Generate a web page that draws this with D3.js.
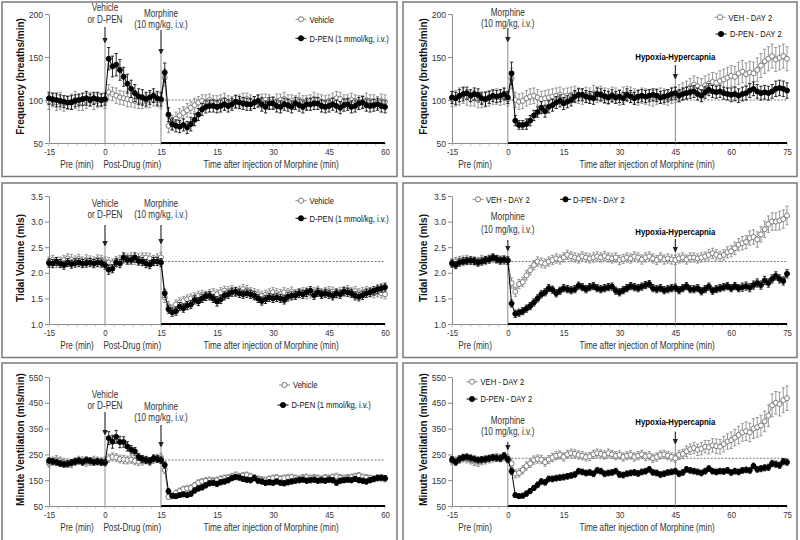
<!DOCTYPE html>
<html><head><meta charset="utf-8">
<script src="https://cdn.jsdelivr.net/npm/d3@7"></script>
<style>
body{margin:0;background:#fff}
text{font-family:"Liberation Sans",Arial,sans-serif;}
</style>
</head><body>
<svg id="c" width="800" height="540"></svg>
<script>
// ---------------- DATA ----------------
// time points on plotted axis: -15..0 pre, then 1..75
const timePos = d3.range(-15, 76);
const xTickPos = [-15, 0, 15, 30, 45, 60, 75];
const xLabelsLeft = ["-15", "0", "15", "15", "30", "45", "60"];
const xLabelsRight = ["-15", "0", "15", "30", "45", "60", "75"];
const subLabelsLeft = ["Pre (min)", "Post-Drug (min)", "Time after injection of Morphine (min)"];
const subLabelsRight = ["Pre (min)", "Time after injection of Morphine (min)"];
const legendLeft = ["Vehicle", "D-PEN (1 mmol/kg, i.v.)"];
const legendRight = ["VEH - DAY 2", "D-PEN - DAY 2"];
const eventLabelsLeft = [["Vehicle", "or D-PEN"], ["Morphine", "(10 mg/kg, i.v.)"]];
const eventLabelsRight = [["Morphine", "(10 mg/kg, i.v.)"], ["Hypoxia-Hypercapnia"]];
const yTitles = ["Frequency (breaths/min)", "Tidal Volume (mls)", "Minute Ventilation (mls/min)"];
const freqTicks = [50, 100, 150, 200];
const tvTicks = [1.0, 1.5, 2.0, 2.5, 3.0, 3.5];
const mvTicks = [50, 150, 250, 350, 450, 550];
const baselines = [100, 100, 2.22, 2.22, 228, 235];

// Frequency, left
const freqVeh_L = [98,100,97,99,96,97,98,100,97,96,99,101,98,99,100,99,
 109,107,105,103,102,101,100,99,99,98,99,100,101,100,99,
 126,70,74,78,82,85,88,91,94,97, 99,98,100,98,97,99,100,98,97,98,
 99,100,101,98,97,98,99,100,98,97, 99,100,101,98,99,97,100,98,97,99,
 101,100,98,97,99,100,102,101,99,98, 100,99,97,98,100,99,98,97,99,98];
const freqVehErr_L = [9,8,9,10,9,8,9,10,9,8,9,8,9,8,8,9,
 9,8,9,8,8,9,8,8,9,8,8,9,8,8,9,
 10,8,8,8,8,7,8,7,8,7, 7,8,7,7,8,7,8,7,7,8, 7,8,7,8,7,7,8,7,8,7,
 8,7,8,8,7,8,8,7,8,7, 8,7,8,8,7,8,8,8,7,8, 8,7,8,7,8,7,8,7,8,8];
const freqDpen_L = [102,101,100,99,98,97,97,99,100,101,102,100,102,101,100,101,
 148,139,141,135,127,119,113,108,104,103,101,103,105,102,101,
 132,83,72,70,69,71,68,72,77,83, 89,92,93,93,92,93,95,93,95,98,
 97,96,95,95,97,99,95,92,96,96, 93,92,95,94,92,96,94,92,95,95,
 96,96,93,92,93,95,93,91,94,95, 92,93,96,97,94,93,94,95,93,92];
const freqDpenErr_L = [7,7,8,7,7,7,8,7,7,7,8,7,7,8,7,7,
 13,12,13,12,11,11,10,10,9,9,8,8,8,8,8,
 11,8,7,7,7,7,7,8,7,7, 7,7,7,7,7,7,7,7,7,7, 7,7,7,7,7,7,8,7,7,7,
 7,7,7,7,7,7,7,7,7,7, 7,7,7,7,7,7,7,7,7,7, 7,7,7,7,7,7,7,7,7,7];

// Frequency, right
const freqVeh_R = [101,102,104,105,103,101,102,100,99,101,102,103,104,103,104,101,
 125,100,98,99,102,104,105,103,101,102, 103,104,105,106,104,105,106,107,105,104,
 106,105,108,106,107,105,104,106,105,103, 106,107,106,104,103,105,104,103,102,104,
 105,104,103,105,106,108,110,112,115,118, 116,114,117,119,121,120,122,124,126,128,
 127,131,133,130,132,131,135,140,145,148, 151,147,149,151,148];
const freqVehErr_R = [9,9,10,9,9,8,9,9,8,9,9,8,9,9,9,8,
 12,9,9,9,9,9,9,9,9,9, 9,9,9,9,9,9,9,9,9,9, 9,9,9,9,9,9,9,9,9,9,
 9,9,9,9,9,9,9,9,9,9, 9,9,9,9,9,10,10,10,10,10, 10,11,11,11,11,11,12,12,12,12,
 12,13,13,13,13,13,14,14,14,14, 14,14,14,14,14];
const freqDpen_R = [103,102,105,107,108,105,107,106,102,101,103,105,104,105,107,103,
 131,76,71,71,72,76,82,86,91,87, 92,94,97,99,96,98,100,104,106,106,
 104,103,102,107,106,104,103,105,103,104, 102,106,104,102,104,105,104,105,106,105,
 103,104,105,107,108,105,107,108,109,110, 107,105,109,112,110,109,110,108,107,106,
 107,105,107,108,111,113,110,108,109,108, 110,113,114,113,111];
const freqDpenErr_R = [7,7,7,8,7,7,7,7,7,8,7,7,7,7,7,7,
 13,6,5,5,6,6,6,6,7,7, 7,7,7,7,7,7,7,7,7,7, 7,7,7,7,7,7,7,7,7,7,
 7,7,7,7,7,7,7,7,7,7, 7,7,7,7,7,7,7,7,7,7, 7,7,7,7,7,7,7,7,7,8,
 8,8,8,8,8,8,8,8,8,8, 8,9,9,9,9];

// Tidal volume, left
const tvVeh_L = [2.22,2.25,2.20,2.22,2.25,2.28,2.26,2.24,2.27,2.22,2.25,2.24,2.22,2.26,2.25,2.22,
 2.20,2.18,2.22,2.25,2.28,2.27,2.30,2.25,2.27,2.30,2.30,2.28,2.25,2.28,2.30,
 1.52,1.35,1.28,1.38,1.42,1.45,1.48,1.50,1.52,1.55, 1.57,1.55,1.58,1.60,1.58,1.62,1.65,1.64,1.66,1.63,
 1.65,1.68,1.66,1.62,1.60,1.58,1.55,1.57,1.60,1.62, 1.60,1.58,1.62,1.60,1.63,1.58,1.60,1.62,1.58,1.60,
 1.62,1.65,1.60,1.62,1.64,1.63,1.60,1.62,1.64,1.66, 1.62,1.64,1.60,1.62,1.64,1.62,1.60,1.62,1.60,1.58];
const tvVehErr_L = [0.09,0.09,0.10,0.09,0.09,0.09,0.10,0.09,0.09,0.09,0.10,0.09,0.09,0.09,0.09,0.09,
 0.10,0.09,0.10,0.09,0.09,0.10,0.09,0.09,0.10,0.09,0.09,0.10,0.09,0.09,0.10,
 0.10,0.09,0.09,0.09,0.09,0.09,0.09,0.09,0.09,0.09, 0.09,0.09,0.09,0.09,0.09,0.09,0.09,0.09,0.09,0.09,
 0.09,0.09,0.09,0.09,0.09,0.09,0.09,0.09,0.09,0.09, 0.09,0.09,0.09,0.09,0.09,0.09,0.09,0.09,0.09,0.09,
 0.09,0.09,0.09,0.09,0.09,0.09,0.09,0.09,0.09,0.09, 0.09,0.09,0.09,0.09,0.09,0.09,0.09,0.09,0.09,0.09];
const tvDpen_L = [2.19,2.18,2.22,2.18,2.15,2.20,2.17,2.19,2.20,2.18,2.19,2.20,2.18,2.20,2.19,2.15,
 2.06,2.08,2.20,2.18,2.30,2.25,2.25,2.30,2.23,2.22,2.18,2.16,2.22,2.22,2.20,
 1.60,1.29,1.23,1.25,1.34,1.31,1.36,1.38,1.47,1.44, 1.50,1.54,1.55,1.50,1.44,1.48,1.55,1.58,1.62,1.63,
 1.60,1.58,1.60,1.58,1.55,1.50,1.45,1.48,1.52,1.50, 1.52,1.50,1.47,1.53,1.55,1.56,1.60,1.58,1.62,1.65,
 1.56,1.62,1.58,1.60,1.58,1.55,1.60,1.58,1.63,1.62, 1.60,1.55,1.53,1.56,1.60,1.62,1.65,1.68,1.70,1.72];
const tvDpenErr_L = [0.08,0.08,0.08,0.08,0.08,0.08,0.08,0.08,0.08,0.08,0.08,0.08,0.08,0.08,0.08,0.08,
 0.09,0.08,0.08,0.08,0.09,0.08,0.08,0.09,0.08,0.08,0.08,0.08,0.08,0.08,0.08,
 0.08,0.08,0.08,0.08,0.08,0.08,0.08,0.08,0.08,0.08, 0.08,0.08,0.08,0.08,0.09,0.08,0.08,0.08,0.08,0.08,
 0.08,0.08,0.08,0.08,0.08,0.08,0.08,0.08,0.08,0.08, 0.08,0.08,0.08,0.08,0.08,0.08,0.08,0.08,0.08,0.08,
 0.08,0.08,0.08,0.08,0.08,0.08,0.08,0.08,0.08,0.08, 0.08,0.08,0.08,0.08,0.08,0.08,0.08,0.08,0.08,0.08];

// Tidal volume, right
const tvVeh_R = [2.20,2.22,2.24,2.25,2.26,2.24,2.23,2.22,2.26,2.24,2.27,2.28,2.26,2.25,2.24,2.24,
 1.80,1.63,1.78,1.82,1.95,2.05,2.15,2.22,2.20,2.18, 2.22,2.25,2.28,2.26,2.30,2.35,2.32,2.30,2.28,2.32,
 2.30,2.28,2.30,2.32,2.30,2.33,2.30,2.28,2.30,2.25, 2.27,2.30,2.28,2.32,2.30,2.26,2.30,2.32,2.28,2.25,
 2.30,2.26,2.28,2.26,2.25,2.28,2.30,2.26,2.30,2.30, 2.28,2.30,2.32,2.35,2.38,2.35,2.32,2.35,2.40,2.42,
 2.48,2.55,2.58,2.60,2.68,2.70,2.65,2.75,2.85,2.95, 3.00,3.00,3.02,3.05,3.12];
const tvVehErr_R = [0.08,0.08,0.08,0.08,0.08,0.08,0.08,0.08,0.08,0.08,0.08,0.08,0.08,0.08,0.08,0.08,
 0.10,0.09,0.09,0.09,0.09,0.09,0.09,0.09,0.09,0.09, 0.09,0.09,0.09,0.09,0.09,0.09,0.09,0.09,0.09,0.09,
 0.09,0.09,0.09,0.09,0.09,0.09,0.09,0.09,0.09,0.09, 0.09,0.09,0.09,0.09,0.09,0.09,0.09,0.09,0.09,0.09,
 0.09,0.09,0.09,0.09,0.09,0.09,0.09,0.09,0.09,0.09, 0.09,0.09,0.09,0.10,0.10,0.10,0.10,0.10,0.11,0.11,
 0.12,0.12,0.13,0.13,0.14,0.14,0.15,0.15,0.16,0.16, 0.17,0.17,0.18,0.18,0.18];
const tvDpen_R = [2.18,2.15,2.20,2.22,2.23,2.24,2.23,2.20,2.22,2.25,2.26,2.30,2.27,2.24,2.26,2.24,
 1.40,1.20,1.22,1.25,1.30,1.35,1.42,1.50,1.58,1.62, 1.70,1.67,1.60,1.65,1.70,1.68,1.66,1.68,1.75,1.72,
 1.68,1.72,1.74,1.70,1.68,1.70,1.72,1.73,1.65,1.62, 1.66,1.70,1.74,1.72,1.70,1.73,1.76,1.78,1.70,1.68,
 1.70,1.66,1.68,1.70,1.71,1.66,1.70,1.74,1.68,1.68, 1.70,1.64,1.68,1.73,1.65,1.68,1.70,1.72,1.74,1.70,
 1.74,1.70,1.72,1.74,1.71,1.76,1.80,1.76,1.85,1.80, 1.88,1.94,1.88,1.84,1.98];
const tvDpenErr_R = [0.07,0.07,0.07,0.07,0.07,0.07,0.07,0.07,0.07,0.07,0.07,0.07,0.07,0.07,0.07,0.07,
 0.07,0.07,0.07,0.07,0.07,0.07,0.07,0.07,0.07,0.07, 0.07,0.07,0.07,0.07,0.07,0.07,0.07,0.07,0.07,0.07,
 0.07,0.07,0.07,0.07,0.07,0.07,0.07,0.07,0.07,0.07, 0.07,0.07,0.07,0.07,0.07,0.07,0.07,0.07,0.07,0.07,
 0.07,0.07,0.07,0.07,0.07,0.07,0.07,0.07,0.07,0.07, 0.07,0.07,0.07,0.07,0.07,0.07,0.07,0.07,0.07,0.07,
 0.07,0.07,0.08,0.08,0.08,0.08,0.08,0.08,0.08,0.08, 0.08,0.08,0.08,0.08,0.08];

// Minute ventilation, left
const mvVeh_L = [215,225,230,225,220,218,215,222,228,225,220,222,228,225,222,225,
 235,240,238,232,230,228,230,225,222,225,228,222,230,235,238,
 190,85,88,100,108,115,118,120,130,140, 145,148,150,148,150,155,158,160,165,170,
 165,168,170,165,160,155,152,150,155,158, 160,155,158,160,162,158,155,160,162,158,
 160,158,155,160,158,162,165,160,158,160, 162,165,168,162,160,158,155,160,158,155];
const mvVehErr_L = [15,15,16,15,15,15,16,15,15,15,16,15,15,15,15,15,
 16,15,15,15,16,15,15,15,15,16,15,15,15,15,16,
 14,10,10,12,12,12,12,12,12,12, 12,12,12,12,12,12,12,12,12,12,
 12,12,12,12,12,12,12,12,12,12, 12,12,12,12,12,12,12,12,12,12,
 12,12,12,12,12,12,12,12,12,12, 12,12,12,12,12,12,12,12,12,12];
const mvDpen_L = [225,222,220,215,212,213,218,222,225,220,228,225,220,222,220,218,
 313,299,318,298,298,281,268,262,240,232,228,225,235,232,228,
 209,107,90,88,92,95,92,97,110,118, 122,130,138,140,136,142,145,150,158,162,
 160,155,152,150,158,148,145,140,142,140, 145,140,138,142,145,148,150,152,148,150,
 152,148,150,148,152,150,140,148,150,152, 150,155,150,148,145,150,155,158,160,158];
const mvDpenErr_L = [12,12,12,12,12,12,12,12,12,12,12,12,12,12,12,12,
 25,25,25,22,20,18,16,15,14,14,13,13,13,13,13,
 12,10,9,9,9,9,9,9,10,10, 10,10,10,10,10,10,10,10,10,10,
 10,10,10,10,10,10,10,10,10,10, 10,10,10,10,10,10,10,10,10,10,
 10,10,10,10,10,10,10,10,10,10, 10,10,10,10,10,10,10,10,10,10];

// Minute ventilation, right
const mvVeh_R = [225,225,230,235,232,228,222,218,225,228,232,235,238,236,240,235,
 215,175,178,190,205,215,228,232,230,220, 230,238,245,248,240,250,255,252,248,245,
 240,242,250,255,252,248,255,250,245,248, 240,245,248,240,245,250,242,245,235,240,
 248,250,245,240,235,248,252,262,270,275, 268,272,280,278,285,282,280,290,300,305,
 315,325,335,340,335,350,355,362,378,400, 440,450,445,460,468];
const mvVehErr_R = [15,15,15,15,15,15,15,15,15,15,15,15,15,15,15,15,
 18,16,16,16,16,16,16,16,16,16, 16,16,16,16,16,16,16,16,16,16,
 16,16,16,16,16,16,16,16,16,16, 16,16,16,16,16,16,16,16,16,16,
 16,16,16,16,16,18,18,20,20,22, 22,24,24,26,26,28,28,30,30,32,
 32,34,34,36,36,38,38,40,40,42, 44,44,46,48,48];
const mvDpen_R = [230,220,232,238,240,236,232,228,230,232,235,238,236,235,245,230,
 185,92,88,90,98,108,120,132,145,142, 155,155,158,160,162,165,168,172,185,182,
 178,180,175,188,185,175,178,180,185,172, 170,175,178,180,176,182,185,192,180,178,
 172,175,180,182,185,175,180,192,188,185, 182,178,185,195,185,182,185,184,188,180,
 185,182,188,190,188,205,192,195,198,200, 215,212,208,222,220];
const mvDpenErr_R = [12,12,12,12,12,12,12,12,12,12,12,12,12,12,12,12,
 12,9,9,9,10,10,10,11,11,11, 11,11,11,11,11,11,11,11,11,11,
 11,11,11,11,11,11,11,11,11,11, 11,11,11,11,11,11,11,11,11,11,
 11,11,11,11,11,11,11,11,11,11, 11,11,11,11,11,11,11,11,11,11,
 11,11,11,11,11,11,11,12,12,12, 12,12,12,12,12];

// ---------------- LAYOUT ----------------
const L = {xr:[49,385], box:[2,2,395,174.5]};
const R = {xr:[452,787], box:[403,2,394,174.5]};
const rows = [
  {yr:[143,14], dom:[50,200], ticks:freqTicks, fmt:d=>d, boxY:2},
  {yr:[324,196], dom:[1,3.5], ticks:tvTicks, fmt:d3.format(".1f"), boxY:183},
  {yr:[506,377], dom:[50,550], ticks:mvTicks, fmt:d=>d, boxY:363}
];
const panels = [
  {row:0, side:"L", veh:freqVeh_L, vehErr:freqVehErr_L, dpen:freqDpen_L, dpenErr:freqDpenErr_L, base:baselines[0],
   ev:[{lines:[7.5,19], arrow:[27,44]},{lines:[13,24.5], arrow:[30,55]}],
   leg:[{y:19.3, mx:301, tx:309.5},{y:38.3, mx:301, tx:309.5}]},
  {row:0, side:"R", veh:freqVeh_R, vehErr:freqVehErr_R, dpen:freqDpen_R, dpenErr:freqDpenErr_R, base:baselines[1],
   ev:[{lines:[12,23.3], arrow:[28,43]},{lines:[57], arrow:[65,80]}],
   leg:[{y:17.3, mx:720, tx:728.5},{y:34, mx:721, tx:730}]},
  {row:1, side:"L", veh:tvVeh_L, vehErr:tvVehErr_L, dpen:tvDpen_L, dpenErr:tvDpenErr_L, base:baselines[2],
   ev:[{lines:[203.5,214.5], arrow:[225,247]},{lines:[203.5,214.5], arrow:[225,245]}],
   leg:[{y:200.7, mx:301, tx:309.5},{y:218.3, mx:301, tx:309.5}]},
  {row:1, side:"R", veh:tvVeh_R, vehErr:tvVehErr_R, dpen:tvDpen_R, dpenErr:tvDpenErr_R, base:baselines[3],
   ev:[{lines:[216.7,229.3], arrow:[240,252]},{lines:[231.7], arrow:[239,253]}],
   leg:[{y:199.3, mx:478, tx:486},{y:199.3, mx:565.5, tx:573}]},
  {row:2, side:"L", veh:mvVeh_L, vehErr:mvVehErr_L, dpen:mvDpen_L, dpenErr:mvDpenErr_L, base:baselines[4],
   ev:[{lines:[394.5,405.5], arrow:[412,436]},{lines:[406.5,417.5], arrow:[425,448]}],
   leg:[{y:385, mx:284.5, tx:293},{y:405, mx:283, tx:291.5}]},
  {row:2, side:"R", veh:mvVeh_R, vehErr:mvVehErr_R, dpen:mvDpen_R, dpenErr:mvDpenErr_R, base:baselines[5],
   ev:[{lines:[420,431], arrow:[441.7,451]},{lines:[421.7], arrow:[431.7,445]}],
   leg:[{y:381.7, mx:472, tx:480.5},{y:399, mx:472, tx:480.5}]}
];

const svg = d3.select("#c");
svg.append("rect").attr("width",800).attr("height",540).attr("fill","#fff");

// condensed text helper (horizontal scaling)
function ntext(g, x, y, str, o) {
  o = o || {};
  return g.append("text")
    .attr("transform", `translate(${x},${y}) scale(${o.sx || 0.82},1)`)
    .attr("dy", "0.35em")
    .attr("text-anchor", o.anchor || "start")
    .attr("font-size", o.size || 10)
    .attr("font-weight", o.bold ? "bold" : "normal")
    .attr("fill", o.fill || "#333")
    .text(str);
}

panels.forEach(p => {
  const row = rows[p.row];
  const left = p.side === "L";
  const S = left ? L : R;
  const g = svg.append("g");
  const boxH = p.row === 2 ? 200 : 174.5;
  g.append("rect").attr("x", S.box[0]).attr("y", row.boxY).attr("width", S.box[2]).attr("height", boxH)
    .attr("fill","#fff").attr("stroke","#7a7a7a").attr("stroke-width",1.5);

  const x = d3.scaleLinear().domain([-15,75]).range(S.xr);
  const y = d3.scaleLinear().domain(row.dom).range(row.yr);
  const yb = row.yr[0];
  const events = left ? [0,15] : [0,45];
  const evLabels = left ? eventLabelsLeft : eventLabelsRight;
  const morphPos = left ? 15 : 0;

  // y axis
  const ya = g.append("g").attr("transform",`translate(${S.xr[0]},0)`)
    .call(d3.axisLeft(y).tickValues(row.ticks).tickFormat(row.fmt).tickSize(4).tickSizeOuter(0).tickPadding(2));
  ya.select(".domain").attr("stroke","#8a8a8a");
  ya.selectAll(".tick line").attr("stroke","#8a8a8a");
  ya.selectAll(".tick text").attr("fill","#333").attr("font-size",9.5)
    .attr("transform","scale(0.9,1)").attr("x",-6.7);

  // x axis
  const xl = left ? xLabelsLeft : xLabelsRight;
  const xa = g.append("g").attr("transform",`translate(0,${yb})`)
    .call(d3.axisBottom(x).tickValues(xTickPos).tickFormat((d,i)=>xl[i]).tickSize(0).tickSizeOuter(0).tickPadding(5));
  xa.select(".domain").attr("stroke","#8a8a8a");
  xa.selectAll(".tick text").attr("font-size",9.5).attr("fill","#333").attr("transform","scale(0.82,1)");
  // minor ticks
  g.append("g").selectAll("line").data(d3.range(-15,75.1,2.5)).join("line")
    .attr("x1",d=>x(d)).attr("x2",d=>x(d)).attr("y1",yb).attr("y2",yb+3)
    .attr("stroke","#aaa").attr("stroke-width",0.7);
  // thick axis segment after morphine
  g.append("line").attr("x1",x(morphPos)).attr("x2",x(75)).attr("y1",yb).attr("y2",yb)
    .attr("stroke","#000").attr("stroke-width",2.2);

  // sub labels
  const subs = left ? subLabelsLeft : subLabelsRight;
  const subPos = left ? [-7.5, 7.3, 44.5] : [-8.8, 37.4];
  subs.forEach((s,i) => ntext(g, x(subPos[i]), yb+21, s, {anchor:"middle", size:10}));

  // y title
  const tx = left ? 20 : 423;
  const ty = (row.yr[0]+row.yr[1])/2 - 2;
  g.append("text").attr("transform",`translate(${tx},${ty}) rotate(-90)`).attr("text-anchor","middle")
    .attr("dy","0.35em").attr("font-size",10).attr("font-weight","bold")
    .attr("fill","#111").text(yTitles[p.row]);

  // dashed baseline
  g.append("line").attr("x1",x(morphPos)).attr("x2",x(75)).attr("y1",y(p.base)).attr("y2",y(p.base))
    .attr("stroke","#555").attr("stroke-width",0.8).attr("stroke-dasharray","2,1.5");

  // event lines, arrows, labels
  events.forEach((e,k) => {
    const cfg = p.ev[k];
    const ex = x(e);
    g.append("line").attr("x1",ex).attr("x2",ex).attr("y1",cfg.arrow[1]).attr("y2",yb)
      .attr("stroke","#8a8a8a").attr("stroke-width",1);
    g.append("line").attr("x1",ex).attr("x2",ex).attr("y1",cfg.arrow[0]).attr("y2",cfg.arrow[1]-4)
      .attr("stroke","#222").attr("stroke-width",1.1);
    g.append("path").attr("d",`M${ex-2.6},${cfg.arrow[1]-6}L${ex+2.6},${cfg.arrow[1]-6}L${ex},${cfg.arrow[1]}Z`)
      .attr("fill","#222");
    const bold = !left && k===1;
    evLabels[k].forEach((t,j) => {
      ntext(g, ex, cfg.lines[j], t, {anchor:"middle", size:bold?9.8:10, sx: bold ? 0.8 : 0.82, bold, fill:bold?"#000":"#333"});
    });
  });

  // series
  const drawSeries = (vals, errs, filled) => {
    const col = filled ? "#000" : "#8c8c8c";
    const pts = timePos.map((t,i)=>({t, v:vals[i], e:errs[i]}));
    const eg = g.append("g").attr("stroke", filled ? "#111" : "#8c8c8c").attr("stroke-width",0.9);
    pts.forEach(d => {
      const cx = x(d.t), y0 = y(d.v - d.e), y1 = y(d.v + d.e);
      eg.append("line").attr("x1",cx).attr("x2",cx).attr("y1",y0).attr("y2",y1);
      eg.append("line").attr("x1",cx-1.6).attr("x2",cx+1.6).attr("y1",y0).attr("y2",y0);
      eg.append("line").attr("x1",cx-1.6).attr("x2",cx+1.6).attr("y1",y1).attr("y2",y1);
    });
    g.append("path").datum(pts).attr("fill","none").attr("stroke",col).attr("stroke-width",1)
      .attr("d", d3.line().x(d=>x(d.t)).y(d=>y(d.v)));
    g.append("g").selectAll("circle").data(pts).join("circle")
      .attr("cx",d=>x(d.t)).attr("cy",d=>y(d.v)).attr("r",2.5)
      .attr("fill", filled ? "#000" : "#fff").attr("stroke", filled ? "#000" : "#6e6e6e").attr("stroke-width",0.9);
  };
  drawSeries(p.veh, p.vehErr, false);
  drawSeries(p.dpen, p.dpenErr, true);

  // legend
  const legT = left ? legendLeft : legendRight;
  p.leg.forEach((l,k) => {
    const filled = k===1;
    g.append("line").attr("x1",l.mx-5.5).attr("x2",l.mx+5.5).attr("y1",l.y).attr("y2",l.y)
      .attr("stroke", filled ? "#000" : "#8c8c8c").attr("stroke-width",1);
    g.append("circle").attr("cx",l.mx).attr("cy",l.y).attr("r",2.6)
      .attr("fill", filled ? "#000" : "#fff").attr("stroke", filled ? "#000" : "#6e6e6e").attr("stroke-width",0.9);
    ntext(g, l.tx, l.y, legT[k], {size:9.5, sx:0.8, fill:"#111"});
  });
});
</script>
</body></html>
